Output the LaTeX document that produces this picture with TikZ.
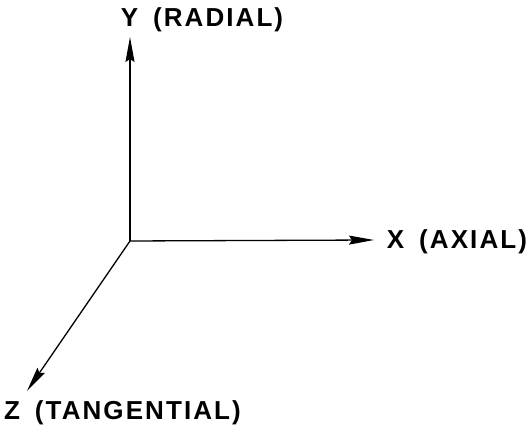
\documentclass[tikz,border=0pt]{standalone}
\usepackage{fontspec}
\setsansfont{Liberation Sans}[LetterSpace=8, WordSpace=1.6]
\usetikzlibrary{arrows.meta}
\tikzset{
  axis/.style={-{Stealth[length=25pt,width=9pt,inset=3pt]}, line width=1.3pt, black},
  axislabel/.style={font=\sffamily\bfseries\fontsize{26}{29}\selectfont, inner sep=0pt},
}

\begin{document}
\begin{tikzpicture}[x=1pt,y=1pt]
  \useasboundingbox (0,0) rectangle (527,435);
  \coordinate (O) at (130,194);
  \coordinate (ytip) at (130,398);
  \coordinate (xtip) at (374,195);
  \coordinate (ztip) at (27,44);
  \draw[axis] (O) -- (ytip);
  \draw[axis] (O) -- (xtip);
  \draw[axis] (O) -- (ztip);
  \node[axislabel] (ylab) at (202,415) {Y (RADIAL)};
  \node[axislabel] (xlab) at (457,193) {X (AXIAL)};
  \node[axislabel] (zlab) at (122.5,22) {Z (TANGENTIAL)};
\end{tikzpicture}
\end{document}
